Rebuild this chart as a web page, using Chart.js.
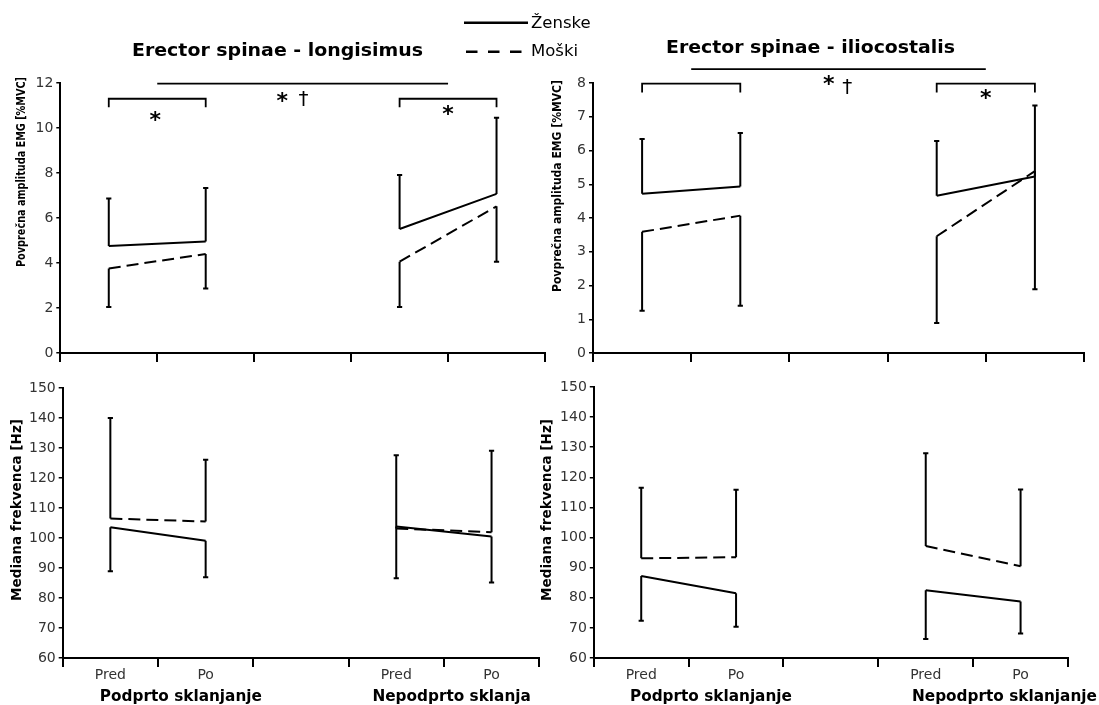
<!DOCTYPE html>
<html><head><meta charset="utf-8">
<script src="https://cdn.jsdelivr.net/npm/chart.js@4.4.1/dist/chart.umd.min.js"></script>
<style>
html,body{margin:0;padding:0;background:#fff;width:1099px;height:705px;overflow:hidden;}
canvas{position:absolute;left:0;top:0;}
</style></head><body>
<canvas id="cTL" width="1099" height="705"></canvas>
<canvas id="cTR" width="1099" height="705"></canvas>
<canvas id="cBL" width="1099" height="705"></canvas>
<canvas id="cBR" width="1099" height="705"></canvas>
<script>
// ---------- DATA ----------
const categories = ['Pred', 'Po', '', 'Pred', 'Po'];
const groupLabels = ['Podprto sklanjanje', 'Nepodprto sklanjanje'];
const seriesNames = ['Ženske', 'Moški'];
const panelTitles = ['Erector spinae - longisimus', 'Erector spinae - iliocostalis'];
const ampAxisTitle = 'Povprečna amplituda EMG [%MVC]';
const mfAxisTitle = 'Mediana frekvenca [Hz]';

// Amplitude, longisimus (top left)
const zenskeAmpLong   = [4.76, 4.96, null, 5.51, 7.07];
const zenskeAmpLongSD = [2.11, 2.37, null, 2.40, 3.39];
const moskiAmpLong    = [3.76, 4.40, null, 4.06, 6.52];
const moskiAmpLongSD  = [1.72, 1.53, null, 2.02, 2.46];
// Amplitude, iliocostalis (top right)
const zenskeAmpIlio   = [4.72, 4.93, null, 4.66, 5.23];
const zenskeAmpIlioSD = [1.62, 1.59, null, 1.62, 2.10];
const moskiAmpIlio    = [3.59, 4.07, null, 3.46, 5.39];
const moskiAmpIlioSD  = [2.34, 2.67, null, 2.57, 3.50];
// Median frequency, longisimus (bottom left)
const zenskeMfLong    = [103.6, 99.1, null, 103.8, 100.5];
const zenskeMfLongSD  = [14.7, 12.2, null, 17.2, 15.3];
const moskiMfLong     = [106.5, 105.5, null, 103.2, 101.9];
const moskiMfLongSD   = [33.5, 20.6, null, 24.4, 27.2];
// Median frequency, iliocostalis (bottom right)
const zenskeMfIlio    = [87.2, 81.5, null, 82.5, 78.8];
const zenskeMfIlioSD  = [14.8, 11.1, null, 16.2, 10.7];
const moskiMfIlio     = [93.1, 93.5, null, 97.2, 90.5];
const moskiMfIlioSD   = [23.4, 22.4, null, 30.8, 25.5];

// axis ranges / ticks
const ampLongAxis = [0, 12, 2];
const ampIlioAxis = [0, 8, 1];
const mfAxis      = [60, 150, 10];

// significance marks (category index, value)
const sigLinesTL    = [[0.5, 3.5, 11.97]];
const sigBracketsTL = [[0, 1, 11.30, 10.92], [3, 4, 11.30, 10.92]];
const sigStarsTL    = [[0.48, 10.55], [1.79, 11.40], [3.5, 10.80]];
const sigDaggersTL  = [[2.01, 11.30]];
const sigLinesTR    = [[0.5, 3.5, 8.41]];
const sigBracketsTR = [[0, 1, 7.98, 7.72], [3, 4, 7.98, 7.72]];
const sigStarsTR    = [[1.90, 8.08], [3.5, 7.68]];
const sigDaggersTR  = [[2.09, 7.91]];

// ---------- STYLE ----------
const W = 1099, H = 705, YW = 48;
const FONT = '"DejaVu Sans", Verdana, sans-serif';
const DASH = [12, 6];

function drawText(ctx, text, x, y, o) {
  ctx.save();
  ctx.font = (o.weight || 'normal') + ' ' + o.size + 'px ' + FONT;
  ctx.fillStyle = o.color || '#000';
  ctx.textAlign = o.align || 'center';
  ctx.textBaseline = o.baseline || 'alphabetic';
  ctx.translate(x, y);
  if (o.rot) ctx.rotate(o.rot);
  if (o.sx) ctx.scale(o.sx, 1);
  else if (o.len) { const w = ctx.measureText(text).width; ctx.scale(o.len / w, 1); }
  ctx.fillText(text, 0, 0);
  ctx.restore();
}
function drawGlyphCentered(ctx, ch, x, y, size, weight) {
  ctx.save();
  ctx.font = weight + ' ' + size + 'px ' + FONT;
  ctx.fillStyle = '#000';
  ctx.textAlign = 'center';
  ctx.textBaseline = 'alphabetic';
  const m = ctx.measureText(ch);
  const off = (m.actualBoundingBoxAscent - m.actualBoundingBoxDescent) / 2;
  ctx.fillText(ch, x, y + off);
  ctx.restore();
}

function makeDecor(cfg) {
  return {
    id: 'decor',
    afterDatasetsDraw(chart) {
      const ctx = chart.ctx, ys = chart.scales.y;
      chart.data.datasets.forEach((ds, i) => {
        const meta = chart.getDatasetMeta(i);
        ds.data.forEach((v, j) => {
          if (v == null) return;
          const p = meta.data[j];
          const y1 = ys.getPixelForValue(v + ds.errDir * ds.err[j]);
          ctx.save();
          ctx.strokeStyle = '#000'; ctx.lineWidth = 2; ctx.setLineDash([]);
          ctx.beginPath();
          ctx.moveTo(p.x, p.y); ctx.lineTo(p.x, y1);
          ctx.moveTo(p.x - 2.6, y1); ctx.lineTo(p.x + 2.6, y1);
          ctx.stroke();
          ctx.restore();
        });
      });
    },
    afterDraw(chart) {
      const ctx = chart.ctx, xs = chart.scales.x, ys = chart.scales.y, a = chart.chartArea;
      const X = v => xs.getPixelForValue(v), Y = v => ys.getPixelForValue(v);
      ctx.save();
      ctx.strokeStyle = '#000'; ctx.lineWidth = 1.8; ctx.setLineDash([]);
      (cfg.lines || []).forEach(l => { ctx.beginPath(); ctx.moveTo(X(l[0]), Y(l[2])); ctx.lineTo(X(l[1]), Y(l[2])); ctx.stroke(); });
      (cfg.brackets || []).forEach(b => {
        ctx.beginPath();
        ctx.moveTo(X(b[0]), Y(b[3])); ctx.lineTo(X(b[0]), Y(b[2]));
        ctx.lineTo(X(b[1]), Y(b[2])); ctx.lineTo(X(b[1]), Y(b[3]));
        ctx.stroke();
      });
      ctx.restore();
      (cfg.stars || []).forEach(s => drawGlyphCentered(ctx, '*', X(s[0]), Y(s[1]), 22, 'bold'));
      (cfg.daggers || []).forEach(s => drawGlyphCentered(ctx, '†', X(s[0]), Y(s[1]), 20, 'normal'));
      // y axis title
      const t = cfg.yTitle;
      drawText(ctx, t.text, a.left - t.dx, t.cy, { size: t.size, weight: 'bold', rot: -Math.PI / 2, baseline: 'middle', len: t.len });
      // panel title
      if (cfg.title) drawText(ctx, cfg.title.text, cfg.title.cx, cfg.title.by, { size: 17.5, weight: 'bold', len: cfg.title.len });
      // group labels
      if (cfg.groups) {
        ctx.save();
        ctx.font = 'bold 16.5px ' + FONT;
        const sx = 162 / ctx.measureText(groupLabels[0]).width;
        ctx.restore();
        cfg.groups.forEach((g, k) => {
          ctx.save();
          if (cfg.clipRight) { ctx.beginPath(); ctx.rect(0, 0, cfg.clipRight, H); ctx.clip(); }
          drawText(ctx, groupLabels[k], X(g), cfg.groupY, { size: 16.5, weight: 'bold', sx: sx });
          ctx.restore();
        });
      }
      // legend
      if (cfg.legend) {
        const ds = chart.data.datasets;
        ctx.save();
        ctx.strokeStyle = '#000'; ctx.lineWidth = 2.5;
        ctx.setLineDash([]);
        ctx.beginPath(); ctx.moveTo(464, 22.7); ctx.lineTo(528, 22.7); ctx.stroke();
        ctx.setLineDash([11.5, 10.5]);
        ctx.beginPath(); ctx.moveTo(466, 51.7); ctx.lineTo(523, 51.7); ctx.stroke();
        ctx.restore();
        drawText(ctx, ds[0].label, 531, 28.3, { size: 16.5, align: 'left' });
        drawText(ctx, ds[1].label, 531, 56, { size: 16.5, align: 'left' });
      }
    }
  };
}

function makeChart(id, cfg) {
  const a = cfg.area;
  const datasets = cfg.series.map(s => ({
    label: s.name, data: s.data, err: s.sd, errDir: s.dir,
    borderColor: '#000', borderWidth: 2, borderDash: s.dash,
    pointRadius: 0, pointHoverRadius: 0, tension: 0, fill: false, spanGaps: false
  }));
  return new Chart(document.getElementById(id), {
    type: 'line',
    data: { labels: categories, datasets },
    options: {
      responsive: false, animation: false, events: [],
      layout: { padding: { left: a.l - YW, right: W - a.r, top: a.t, bottom: H - a.b - cfg.xh } },
      plugins: { legend: { display: false }, tooltip: { enabled: false }, title: { display: false } },
      scales: {
        x: {
          type: 'category', offset: true,
          grid: { offset: true, drawOnChartArea: false, drawTicks: true, tickLength: 9, color: '#000', lineWidth: 2 },
          border: { display: true, color: '#000', width: 2 },
          ticks: { display: cfg.showX, color: '#333', font: { family: FONT, size: 14 }, padding: 0, maxRotation: 0, autoSkip: false },
          afterFit: s => { s.height = cfg.xh; }
        },
        y: {
          type: 'linear', min: cfg.axis[0], max: cfg.axis[1],
          ticks: { stepSize: cfg.axis[2], color: '#333', font: { family: FONT, size: 14 }, padding: 3 },
          grid: { drawOnChartArea: false, drawTicks: true, tickLength: 4, color: '#000', lineWidth: 1.5 },
          border: { display: true, color: '#000', width: 2 },
          afterFit: s => { s.width = YW; }
        }
      }
    },
    plugins: [makeDecor(cfg)]
  });
}

makeChart('cTL', {
  area: { l: 60.3, r: 545, t: 83, b: 353 }, xh: 12, showX: false, axis: ampLongAxis,
  series: [
    { name: seriesNames[0], data: zenskeAmpLong, sd: zenskeAmpLongSD, dir: 1, dash: [] },
    { name: seriesNames[1], data: moskiAmpLong, sd: moskiAmpLongSD, dir: -1, dash: DASH }
  ],
  yTitle: { text: ampAxisTitle, dx: 38.3, cy: 172, size: 13, len: 190 },
  title: { text: panelTitles[0], cx: 277.5, by: 56, len: 291 },
  legend: true,
  lines: sigLinesTL, brackets: sigBracketsTL, stars: sigStarsTL, daggers: sigDaggersTL
});
makeChart('cTR', {
  area: { l: 593, r: 1084, t: 83, b: 353 }, xh: 12, showX: false, axis: ampIlioAxis,
  series: [
    { name: seriesNames[0], data: zenskeAmpIlio, sd: zenskeAmpIlioSD, dir: 1, dash: [] },
    { name: seriesNames[1], data: moskiAmpIlio, sd: moskiAmpIlioSD, dir: -1, dash: DASH }
  ],
  yTitle: { text: ampAxisTitle, dx: 35, cy: 186, size: 13, len: 212 },
  title: { text: panelTitles[1], cx: 810.5, by: 53, len: 289 },
  lines: sigLinesTR, brackets: sigBracketsTR, stars: sigStarsTR, daggers: sigDaggersTR
});
makeChart('cBL', {
  area: { l: 62.7, r: 539.2, t: 388, b: 658 }, xh: 40, showX: true, axis: mfAxis,
  series: [
    { name: seriesNames[0], data: zenskeMfLong, sd: zenskeMfLongSD, dir: -1, dash: [] },
    { name: seriesNames[1], data: moskiMfLong, sd: moskiMfLongSD, dir: 1, dash: DASH }
  ],
  yTitle: { text: mfAxisTitle, dx: 45.7, cy: 510, size: 14.5, len: 182 },
  groups: [0.74, 3.72], groupY: 701, clipRight: 531
});
makeChart('cBR', {
  area: { l: 593.8, r: 1068, t: 387, b: 658 }, xh: 40, showX: true, axis: mfAxis,
  series: [
    { name: seriesNames[0], data: zenskeMfIlio, sd: zenskeMfIlioSD, dir: -1, dash: [] },
    { name: seriesNames[1], data: moskiMfIlio, sd: moskiMfIlioSD, dir: 1, dash: DASH }
  ],
  yTitle: { text: mfAxisTitle, dx: 46.8, cy: 510, size: 14.5, len: 182 },
  groups: [0.735, 3.83], groupY: 701
});
</script>
</body></html>
